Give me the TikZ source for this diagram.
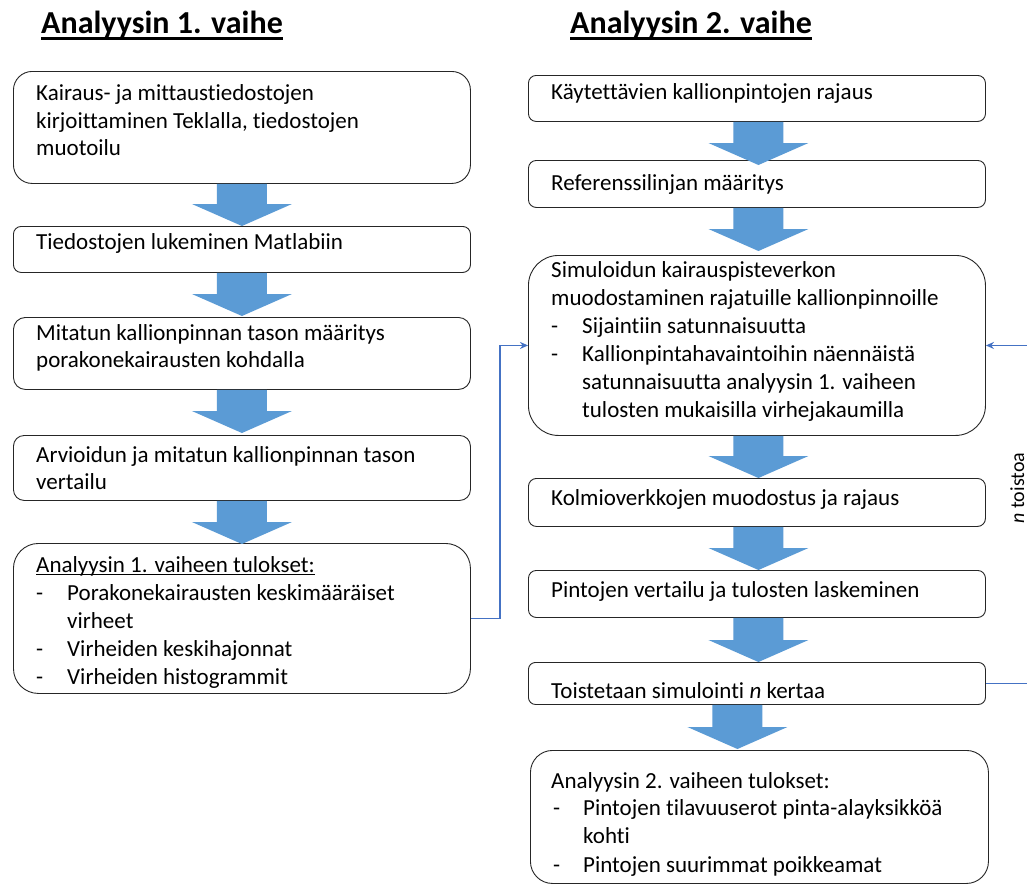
\documentclass[tikz,border=0pt]{standalone}
\usepackage{fontspec}
\setmainfont[RawFeature={-liga;-clig;-dlig;-calt}]{Carlito}
\usetikzlibrary{arrows.meta,calc}
\definecolor{arrfill}{HTML}{5B9BD5}
\definecolor{connblue}{HTML}{4472C4}
\newcommand\myul[3]{\setbox0\hbox{#1}\rlap{\rule[-#2]{\wd0}{#3}}\box0}
\newcommand\barrow[4]{\fill[blockarr] let \p1=(#1.south), \p2=(#2.north) in
  (\x1+#3-25pt,\y1) -- (\x1+#3+25pt,\y1) -- (\x1+#3+25pt,\y2-#4+22pt) --
  (\x1+#3+50pt,\y2-#4+22pt) -- (\x1+#3,\y2-#4) -- (\x1+#3-50pt,\y2-#4+22pt) --
  (\x1+#3-25pt,\y2-#4+22pt) -- cycle;}
\begin{document}
\begin{tikzpicture}[x=1pt,y=-1pt,
  box/.style={draw=black!85,line width=0.9pt,fill=white,inner sep=0pt,anchor=north west},
  txt/.style={anchor=base west,inner sep=0pt,font=\fontsize{23}{28}\selectfont},
  title/.style={anchor=base west,inner sep=0pt,font=\fontsize{32}{38}\selectfont\bfseries},
  blockarr/.style={fill=arrfill},
  conn/.style={draw=connblue,line width=1.4pt},
  tip/.style={-{Stealth[length=8pt,width=7pt]}}]
\useasboundingbox[fill=white] (0,0) rectangle (1027,884);

% titles
\node[title] (title1) at (41,33) {\myul{Analyysin 1. vaihe}{6.5pt}{2.3pt}};
\node[title] (title2) at (570,33) {\myul{Analyysin 2. vaihe}{6.5pt}{2.3pt}};

% left boxes
\node[box,minimum width=457,minimum height=112,rounded corners=18.7pt] (b1) at (13,71) {};
\node[box,minimum width=457,minimum height=46,rounded corners=7.7pt] (b2) at (13,226) {};
\node[box,minimum width=457,minimum height=72,rounded corners=12pt] (b3) at (13,317) {};
\node[box,minimum width=457,minimum height=65,rounded corners=10.8pt] (b4) at (13,435) {};
\node[box,minimum width=457,minimum height=150,rounded corners=25pt] (b5) at (13,543) {};

% right boxes
\node[box,minimum width=457,minimum height=46,rounded corners=7.7pt] (r1) at (528,75) {};
\node[box,minimum width=457,minimum height=47,rounded corners=7.8pt] (r2) at (528,160) {};
\node[box,minimum width=457,minimum height=180,rounded corners=30pt] (r3) at (528,255) {};
\node[box,minimum width=457,minimum height=48,rounded corners=8pt] (r4) at (528,478) {};
\node[box,minimum width=457,minimum height=47,rounded corners=7.8pt] (r5) at (528,570) {};
\node[box,minimum width=457,minimum height=42,rounded corners=7pt] (r6) at (528,662) {};
\node[box,minimum width=458,minimum height=133,rounded corners=22pt] (r7) at (530,750) {};

% block arrows
\barrow{b1}{b2}{0pt}{0pt}
\barrow{b2}{b3}{0pt}{-1pt}
\barrow{b3}{b4}{0pt}{-2pt}
\barrow{b4}{b5}{0pt}{1pt}
\barrow{r1}{r2}{1.5pt}{5pt}
\barrow{r2}{r3}{1.5pt}{-4pt}
\barrow{r3}{r4}{1.5pt}{0pt}
\barrow{r4}{r5}{1.5pt}{0pt}
\barrow{r5}{r6}{1.5pt}{0pt}
\barrow{r6}{r7}{-19.5pt}{-1pt}

% left texts
\node[txt] (t1a) at (36,100) {Kairaus- ja mittaustiedostojen};
\node[txt] (t1b) at (36,128) {kirjoittaminen Teklalla, tiedostojen};
\node[txt] (t1c) at (36,155) {muotoilu};
\node[txt] (t2a) at (36,249) {Tiedostojen lukeminen Matlabiin};
\node[txt] (t3a) at (36,340) {Mitatun kallionpinnan tason määritys};
\node[txt] (t3b) at (36,367) {porakonekairausten kohdalla};
\node[txt] (t4a) at (36,462) {Arvioidun ja mitatun kallionpinnan tason};
\node[txt] (t4b) at (36,489) {vertailu};
\node[txt] (t5a) at (36,572) {\myul{Analyysin 1. vaiheen tulokset:}{3.3pt}{1.3pt}};
\node[txt] (t5b) at (36,600) {-};
\node[txt] (t5c) at (67,600) {Porakonekairausten keskimääräiset};
\node[txt] (t5d) at (67,628) {virheet};
\node[txt] (t5e) at (36,656) {-};
\node[txt] (t5f) at (67,656) {Virheiden keskihajonnat};
\node[txt] (t5g) at (36,684) {-};
\node[txt] (t5h) at (67,684) {Virheiden histogrammit};

% right texts
\node[txt] (s1a) at (551,99) {Käytettävien kallionpintojen rajaus};
\node[txt] (s2a) at (551,190) {Referenssilinjan määritys};
\node[txt] (s3a) at (551,277) {Simuloidun kairauspisteverkon};
\node[txt] (s3b) at (551,305) {muodostaminen rajatuille kallionpinnoille};
\node[txt] (s3c) at (551,333) {-};
\node[txt] (s3d) at (582,333) {Sijaintiin satunnaisuutta};
\node[txt] (s3e) at (551,361) {-};
\node[txt] (s3f) at (582,361) {Kallionpintahavaintoihin näennäistä};
\node[txt] (s3g) at (582,389) {satunnaisuutta analyysin 1. vaiheen};
\node[txt] (s3h) at (582,417) {tulosten mukaisilla virhejakaumilla};
\node[txt] (s4a) at (551,505) {Kolmioverkkojen muodostus ja rajaus};
\node[txt] (s5a) at (551,597) {Pintojen vertailu ja tulosten laskeminen};
\node[txt] (s6a) at (551,698) {Toistetaan simulointi \textit{n} kertaa};
\node[txt] (s7a) at (551,788) {Analyysin 2. vaiheen tulokset:};
\node[txt] (s7b) at (553,815) {-};
\node[txt] (s7c) at (583,815) {Pintojen tilavuuserot pinta-alayksikköä};
\node[txt] (s7d) at (583,843) {kohti};
\node[txt] (s7e) at (553,872) {-};
\node[txt] (s7f) at (583,872) {Pintojen suurimmat poikkeamat};

% connectors
\draw[conn,tip] (b5.east) -- ++(29,0) |- (r3.west);
\coordinate (edgeA) at (1027,683);
\coordinate (edgeB) at (1027,345);
\draw[conn] (r6.east) -- (r6.east -| edgeA);
\draw[conn,tip] (r3.east -| edgeB) -- (r3.east);
\node[font=\fontsize{20}{24}\selectfont,rotate=90,anchor=base,inner sep=0pt] (ntoist) at (1024,488) {\textit{n} toistoa};
\end{tikzpicture}
\end{document}
